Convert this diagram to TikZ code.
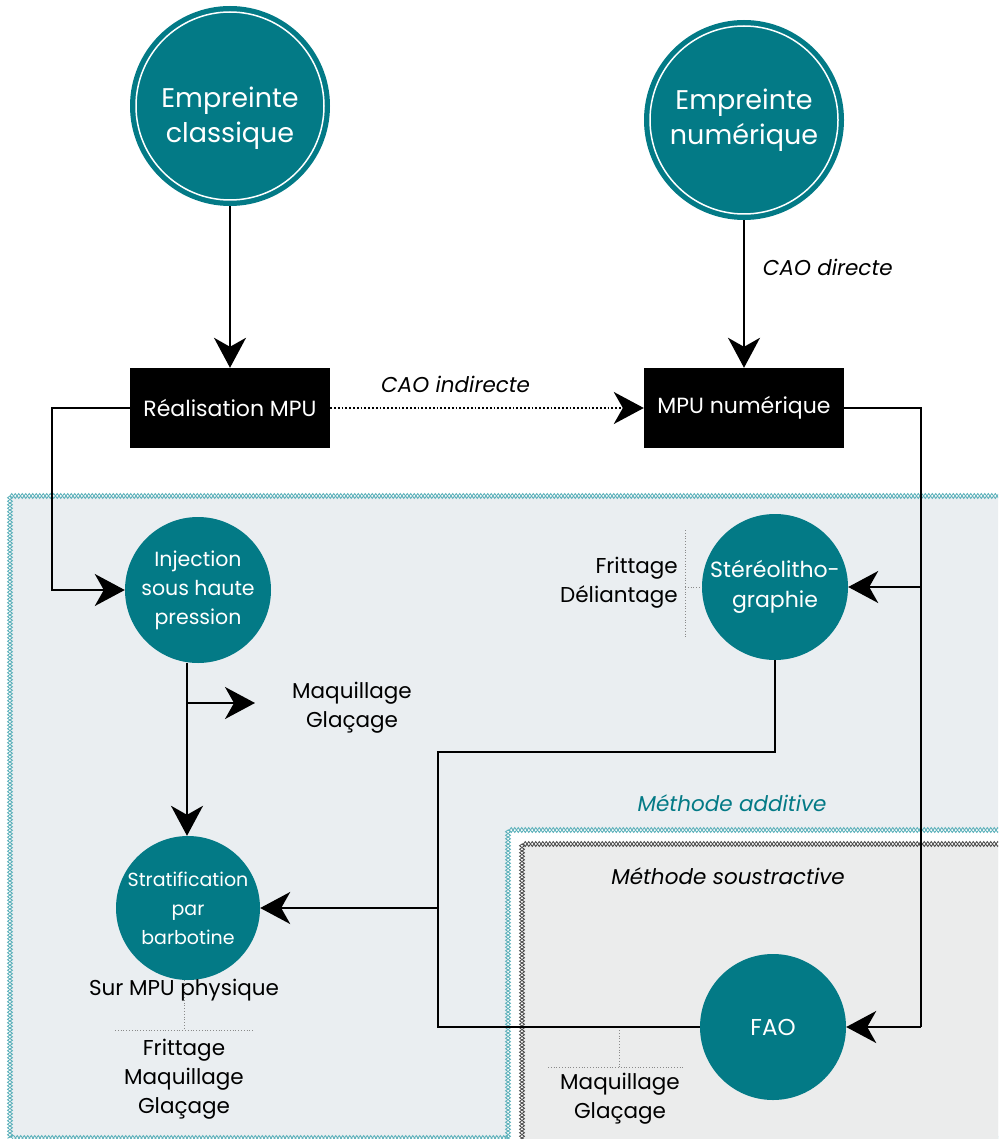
\documentclass[tikz,border=0pt]{standalone}
\usepackage{fontspec}
\setmainfont{Poppins}
\usetikzlibrary{arrows.meta,decorations.pathmorphing}
\definecolor{teal1}{HTML}{037A86}
\definecolor{regA}{HTML}{EAEEF1}
\definecolor{regC}{HTML}{EBECEC}
\definecolor{tealb}{HTML}{5AB0BA}
\definecolor{greyb}{HTML}{4A4A4A}
\definecolor{dotc}{HTML}{8A8A8A}
\begin{document}
\begin{tikzpicture}[x=1pt,y=-1pt,
  bigcirc/.style={circle, fill=teal1, minimum size=200pt, inner sep=0pt, text=white, font=\fontsize{27}{35}\selectfont, align=center},
  bigtext/.style={text=white, font=\fontsize{27}{35}\selectfont, align=center, inner sep=0pt},
  smallcirc/.style={circle, fill=teal1, minimum size=146pt, inner sep=0pt, text=white, font=\fontsize{20.5}{29}\selectfont, align=center},
  blackbox/.style={rectangle, fill=black, text=white, minimum width=200pt, minimum height=80pt, inner sep=0pt, font=\fontsize{22}{25}\selectfont},
  conn/.style={line width=1.8pt, draw=black},
  arr/.style={conn, -{Stealth[length=30pt,width=32pt,inset=9pt]}},
  lab/.style={font=\fontsize{21.5}{29}\selectfont, align=center, inner sep=0pt},
  itlab/.style={font=\fontsize{21.5}{29}\selectfont\itshape, inner sep=0pt},
  dotl/.style={draw=dotc, dotted, line width=0.8pt},
  zz/.style={decorate, decoration={zigzag, segment length=7pt, amplitude=2.5pt}, line width=0.8pt},
  zzm/.style={decorate, decoration={zigzag, segment length=7pt, amplitude=2.5pt, mirror}, line width=0.8pt}
]
\useasboundingbox (0,0) rectangle (998,1139);
\clip (0,0) rectangle (998,1139);
% background
\fill[white] (0,0) rectangle (998,1139);
% region A
\fill[regA] (10,496) rectangle (1020,1138);
\draw[zz, tealb] (10,496) rectangle (1020,1138);
\draw[zzm, tealb] (10,496) rectangle (1020,1138);
% region B
\fill[white] (508,830) rectangle (1020,1150);
\draw[zz, tealb] (508,830) rectangle (1020,1150);
\draw[zzm, tealb] (508,830) rectangle (1020,1150);
% region C
\fill[regC] (522,844) rectangle (1020,1150);
\draw[zz, greyb] (522,844) rectangle (1020,1150);
\draw[zzm, greyb] (522,844) rectangle (1020,1150);

\node[itlab, text=teal1] (madd) at (732,803) {Méthode additive};
\node[itlab] (msous) at (728,876) {Méthode soustractive};

% nodes
\node[bigcirc] (ec) at (230,106) {};
\draw[white, line width=1.5pt] (ec.center) circle[radius=94pt];
\node[bigtext] (ect) at (230,118) {Empreinte\\classique};
\node[bigcirc] (en) at (744,120) {Empreinte\\numérique};
\draw[white, line width=1.5pt] (en.center) circle[radius=94pt];

\node[blackbox] (rm) at (230,408) {Réalisation MPU};
\node[blackbox] (mn) at (744,408) {MPU numérique};

\node[smallcirc] (inj) at (198,590) {Injection\\sous haute\\pression};
\node[smallcirc, font=\fontsize{22}{30}\selectfont] (stereo) at (775,587) {Stéréolitho-\\graphie};
\node[smallcirc, minimum size=144pt, inner sep=-6pt, font=\fontsize{19}{29}\selectfont] (strat) at (188,908) {Stratification\\par\\barbotine};
\node[smallcirc, font=\fontsize{23}{30}\selectfont] (fao) at (773,1027) {FAO};

% labels
\node[lab] (maq1) at (352,708) {Maquillage\\Glaçage};
\node[lab, align=right, anchor=east] (fritt) at (678,583) {Frittage\\Déliantage};
\node[lab] (sur) at (184,990) {Sur MPU physique};
\node[lab] (fmg) at (184,1079) {Frittage\\Maquillage\\Glaçage};
\node[lab] (mg2) at (620,1099) {Maquillage\\Glaçage};

% dotted brackets
\coordinate (fv1) at (685,530);
\coordinate (fv2) at (685,637);
\draw[dotl] (fv1) -- (fv2);
\draw[dotl] (fv1 |- stereo.west) -- (stereo.west);
\coordinate (sv) at (184,1030);
\draw[dotl] (strat.south -| sv) -- (sv);
\coordinate (sh1) at (115,1030);
\coordinate (sh2) at (253,1030);
\draw[dotl] (sh1) -- (sh2);
\coordinate (fa1) at (619,1030);
\coordinate (fa2) at (619,1067);
\draw[dotl] (fa1) -- (fa2);
\coordinate (fh1) at (548,1067);
\coordinate (fh2) at (685,1067);
\draw[dotl] (fh1) -- (fh2);

% connectors
\draw[arr] (ec) -- (rm);
\draw[arr] (en) -- node[itlab, right=18pt, pos=0.32] (caod) {CAO directe} (mn);
\draw[arr, dotted] (rm) -- node[itlab, above=14pt, pos=0.4] (caoi) {CAO indirecte} (mn);

\coordinate (j1) at (52,408);
\draw[arr] (rm.west) -- (j1) |- (inj.west);

\coordinate (j2) at (921,408);
\coordinate (j3) at (921,1027);
\coordinate (j4) at (921,587);
\draw[conn] (mn.east) -- (j2) -- (j3);
\draw[arr] (j4) -- (stereo.east);
\draw[arr] (j3) -- (fao.east);

\coordinate (inb) at (187,663);
\draw[arr] (inb) -- (inb |- strat.north);
\coordinate (m1) at (187,703);
\coordinate (m2) at (255,703);
\draw[arr] (m1) -- (m2);

\coordinate (s1) at (775,752);
\coordinate (s2) at (438,752);
\coordinate (s3) at (438,1027);
\coordinate (s4) at (438,908);
\draw[conn] (stereo.south) -- (s1) -- (s2) -- (s3) -- (fao.west);
\draw[arr] (s4) -- (strat.east);
\end{tikzpicture}
\end{document}
